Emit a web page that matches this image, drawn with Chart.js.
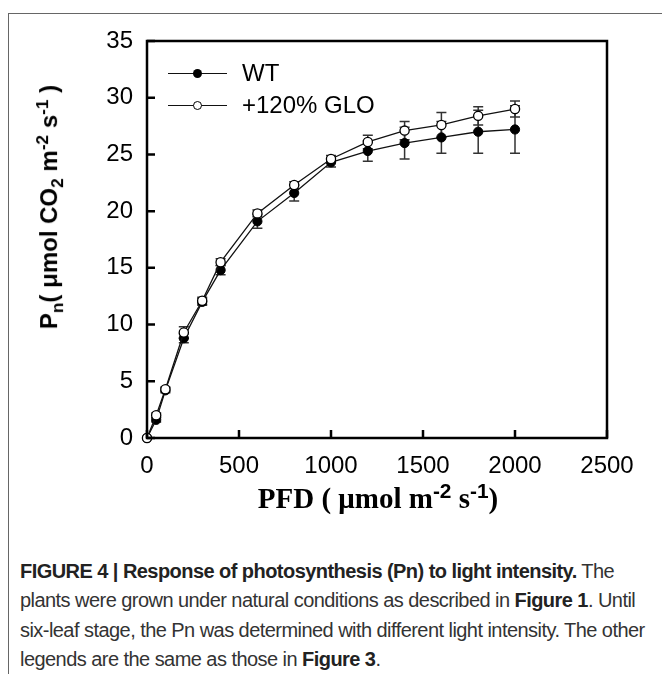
<!DOCTYPE html>
<html lang="en">
<head>
    <meta charset="UTF-8">
    <title>Pn vs light intensity</title>
    <script src="https://cdn.jsdelivr.net/npm/chart.js"></script>
    <style>
        body { margin: 0; background: #fff; width: 662px; height: 674px; position: relative; overflow: hidden; font-family: "Liberation Sans", Arial, sans-serif; }
        .frame { position: absolute; left: 8px; top: 13px; width: 700px; height: 700px; border-left: 1px solid #666; border-top: 1px solid #666; }
        #chartWrap { position: absolute; left: 0; top: 0; width: 662px; height: 520px; }
        .ytitle { position: absolute; left: 50px; top: 207px; transform: translate(-50%, -50%) rotate(-90deg); white-space: nowrap; font-weight: bold; font-size: 24px; color: #000; }
        .ytitle sub, .ytitle sup, .xtitle sup { font-size: 72%; }
        .xtitle { position: absolute; left: 378px; top: 497px; transform: translate(-50%, -50%); white-space: nowrap; font-family: "Liberation Serif", "Times New Roman", serif; font-weight: bold; font-size: 29px; color: #000; }
        .xtitle sup { font-family: "Liberation Sans", Arial, sans-serif; }
        .legend { position: absolute; left: 168px; font-size: 24px; color: #000; line-height: 1; }
        .legend .ln { position: absolute; left: 0; top: 0; width: 59px; height: 1.3px; background: #111; }
        .legend .dot { position: absolute; left: 25px; top: -4.5px; width: 9px; height: 9px; border-radius: 50%; box-sizing: border-box; }
        .legend .txt { position: absolute; left: 74px; top: -12px; white-space: nowrap; }
        .caption { position: absolute; left: 20px; top: 557px; font-size: 20px; line-height: 29.3px; color: #333; letter-spacing: -0.55px; white-space: nowrap; }
        .caption b { color: #222; }
    </style>
</head>
<body>
    <div class="frame"></div>
    <div id="chartWrap"><canvas id="pnChart" width="662" height="520"></canvas></div>

    <div class="legend" style="top: 73px;">
        <div class="ln"></div><div class="dot" style="background:#000;"></div><div class="txt">WT</div>
    </div>
    <div class="legend" style="top: 105px;">
        <div class="ln"></div><div class="dot" style="background:#fff; border:1.3px solid #000;"></div><div class="txt">+120% GLO</div>
    </div>

    <div class="ytitle">P<sub>n</sub>( μmol CO<sub>2</sub> m<sup>-2</sup> s<sup>-1</sup> )</div>
    <div class="xtitle">PFD ( μmol m<sup>-2</sup> s<sup>-1</sup>)</div>

    <div class="caption">
        <div><b>FIGURE 4 | Response of photosynthesis (Pn) to light intensity.</b> The</div>
        <div>plants were grown under natural conditions as described in <b>Figure 1</b>. Until</div>
        <div>six-leaf stage, the Pn was determined with different light intensity. The other</div>
        <div>legends are the same as those in <b>Figure 3</b>.</div>
    </div>

    <script>
        // PFD values (umol m-2 s-1)
        const pfd = [0, 50, 100, 200, 300, 400, 600, 800, 1000, 1200, 1400, 1600, 1800, 2000];
        // Pn, wild type
        const wtPn = [0, 1.6, 4.2, 8.8, 12.0, 14.8, 19.1, 21.6, 24.3, 25.3, 26.0, 26.5, 27.0, 27.2];
        const wtErr = [0, 0.2, 0.2, 0.4, 0.3, 0.4, 0.6, 0.7, 0.4, 0.9, 1.4, 1.4, 1.9, 2.1];
        // Pn, +120% GLO
        const gloPn = [0, 2.0, 4.3, 9.3, 12.1, 15.5, 19.8, 22.3, 24.6, 26.1, 27.1, 27.6, 28.4, 29.0];
        const gloErr = [0, 0.2, 0.2, 0.5, 0.3, 0.3, 0.3, 0.3, 0.3, 0.6, 0.8, 1.1, 0.8, 0.7];
        const xTicks = [0, 500, 1000, 1500, 2000, 2500];
        const yTicks = [0, 5, 10, 15, 20, 25, 30, 35];

        const toPoints = (ys) => ys.map((y, i) => ({ x: pfd[i], y: y }));

        // error bars under the markers
        const errorBars = {
            id: 'errorBars',
            beforeDatasetsDraw(chart) {
                const ctx = chart.ctx;
                const xs = chart.scales.x, ys = chart.scales.y;
                ctx.save();
                ctx.strokeStyle = '#333';
                ctx.lineWidth = 1.5;
                [[wtPn, wtErr], [gloPn, gloErr]].forEach(([vals, errs]) => {
                    vals.forEach((v, i) => {
                        if (!errs[i]) return;
                        const px = xs.getPixelForValue(pfd[i]);
                        const top = ys.getPixelForValue(v + errs[i]);
                        const bot = ys.getPixelForValue(v - errs[i]);
                        ctx.beginPath();
                        ctx.moveTo(px, top); ctx.lineTo(px, bot);
                        ctx.moveTo(px - 5, top); ctx.lineTo(px + 5, top);
                        ctx.moveTo(px - 5, bot); ctx.lineTo(px + 5, bot);
                        ctx.stroke();
                    });
                });
                ctx.restore();
            }
        };

        // box round the plot and inward ticks
        const boxAndTicks = {
            id: 'boxAndTicks',
            afterDraw(chart) {
                const ctx = chart.ctx;
                const a = chart.chartArea;
                const xs = chart.scales.x, ys = chart.scales.y;
                ctx.save();
                ctx.strokeStyle = '#000';
                ctx.lineWidth = 2.5;
                ctx.strokeRect(a.left, a.top, a.right - a.left, a.bottom - a.top);
                ctx.beginPath();
                xTicks.forEach(t => {
                    const px = xs.getPixelForValue(t);
                    ctx.moveTo(px, a.bottom); ctx.lineTo(px, a.bottom - 8);
                });
                yTicks.forEach(t => {
                    const py = ys.getPixelForValue(t);
                    ctx.moveTo(a.left, py); ctx.lineTo(a.left + 8, py);
                });
                ctx.stroke();
                ctx.restore();
            }
        };

        const ctxPn = document.getElementById('pnChart').getContext('2d');
        new Chart(ctxPn, {
            type: 'line',
            data: {
                datasets: [
                    {
                        label: '+120% GLO',
                        data: toPoints(gloPn),
                        borderColor: '#111',
                        borderWidth: 1.3,
                        pointRadius: 4.6,
                        pointBackgroundColor: '#fff',
                        pointBorderColor: '#000',
                        pointBorderWidth: 1.3,
                        clip: false,
                        order: 0
                    },
                    {
                        label: 'WT',
                        data: toPoints(wtPn),
                        borderColor: '#111',
                        borderWidth: 1.3,
                        pointRadius: 4.6,
                        pointBackgroundColor: '#000',
                        pointBorderColor: '#000',
                        pointBorderWidth: 1,
                        clip: false,
                        order: 1
                    }
                ]
            },
            options: {
                responsive: false,
                animation: false,
                events: [],
                layout: { padding: { top: 41, right: 55, left: 0, bottom: 0 } },
                plugins: { legend: { display: false }, tooltip: { enabled: false } },
                scales: {
                    x: {
                        type: 'linear',
                        min: 0, max: 2500,
                        afterFit: s => { s.height = 82; },
                        afterBuildTicks: s => { s.ticks = xTicks.map(v => ({ value: v })); },
                        ticks: { color: '#000', padding: 14, maxRotation: 0, callback: v => String(v), font: { family: 'Liberation Sans', size: 24 } },
                        grid: { display: false, drawTicks: false },
                        border: { display: false }
                    },
                    y: {
                        type: 'linear',
                        min: 0, max: 35,
                        afterFit: s => { s.width = 147; },
                        afterBuildTicks: s => { s.ticks = yTicks.map(v => ({ value: v })); },
                        ticks: { color: '#000', padding: 14, callback: v => String(v), font: { family: 'Liberation Sans', size: 24 } },
                        grid: { display: false, drawTicks: false },
                        border: { display: false }
                    }
                }
            },
            plugins: [errorBars, boxAndTicks]
        });
    </script>
</body>
</html>
